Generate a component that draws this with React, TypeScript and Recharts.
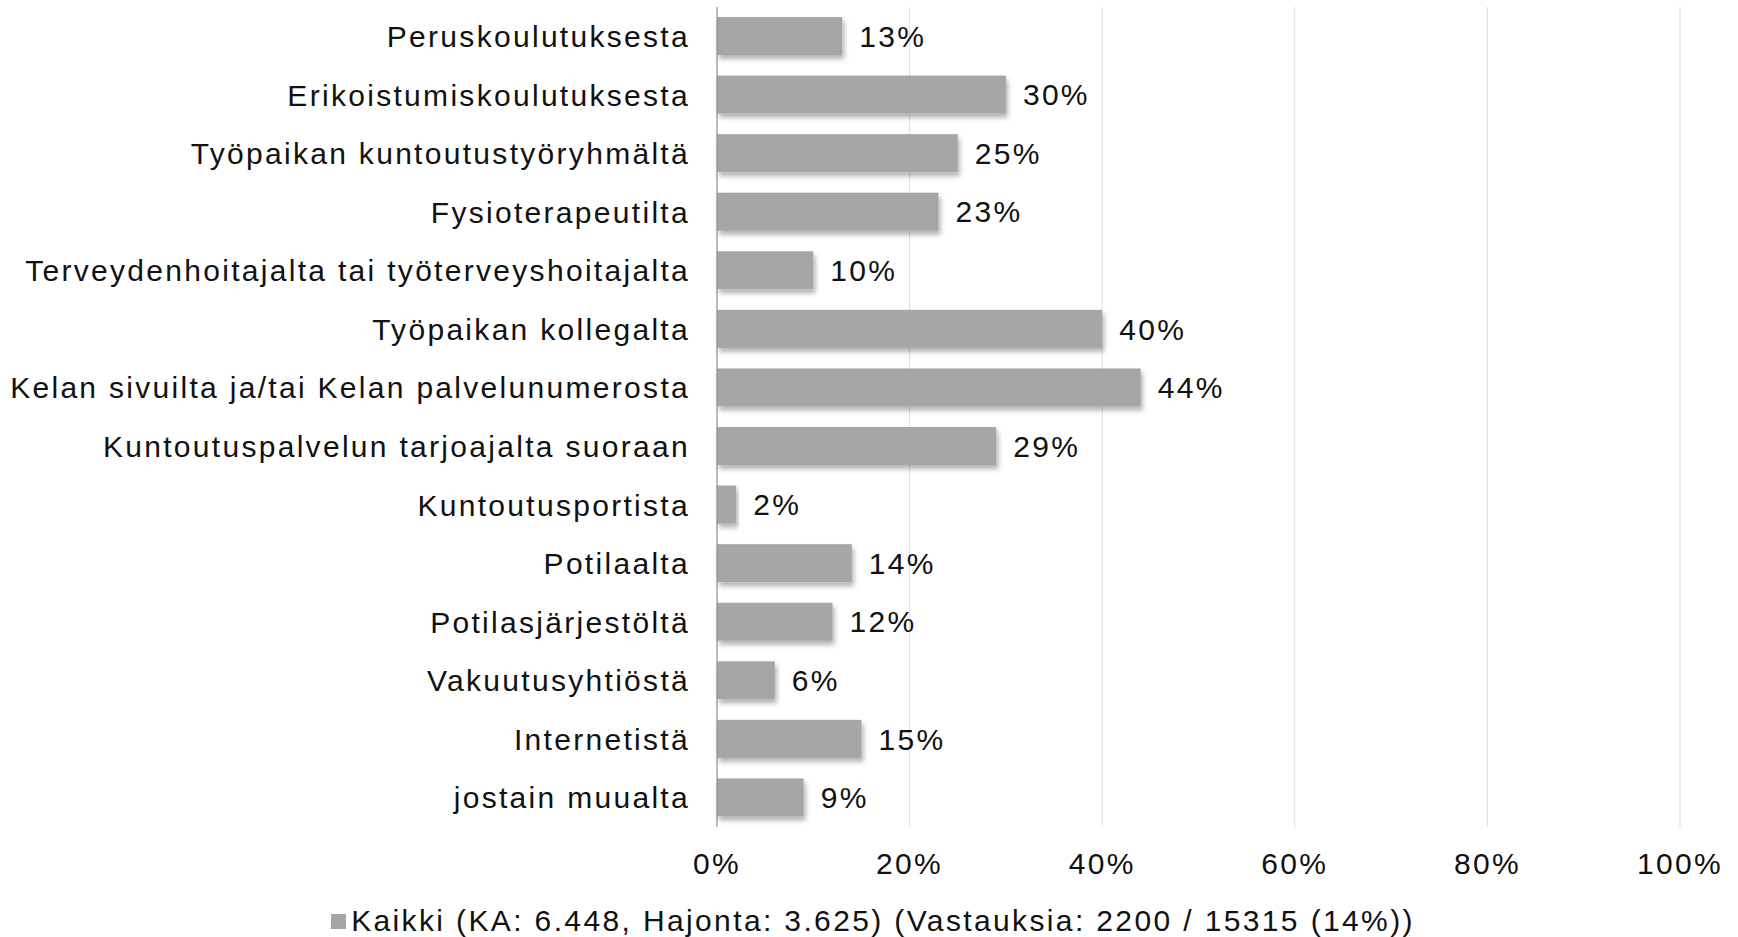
import React from 'react';
import { BarChart, Bar, XAxis, YAxis, CartesianGrid, Legend, LabelList } from 'recharts';

// vastausten lähteet
const categories = [
  'Peruskoulutuksesta',
  'Erikoistumiskoulutuksesta',
  'Työpaikan kuntoutustyöryhmältä',
  'Fysioterapeutilta',
  'Terveydenhoitajalta tai työterveyshoitajalta',
  'Työpaikan kollegalta',
  'Kelan sivuilta ja/tai Kelan palvelunumerosta',
  'Kuntoutuspalvelun tarjoajalta suoraan',
  'Kuntoutusportista',
  'Potilaalta',
  'Potilasjärjestöltä',
  'Vakuutusyhtiöstä',
  'Internetistä',
  'jostain muualta',
];
const values = [13, 30, 25, 23, 10, 40, 44, 29, 2, 14, 12, 6, 15, 9];
const xTicks = [0, 20, 40, 60, 80, 100];
const seriesName = 'Kaikki (KA: 6.448, Hajonta: 3.625) (Vastauksia: 2200 / 15315 (14%))';

const data = categories.map((name, i) => ({ name, value: values[i] }));

const FONT = '"Liberation Sans", Arial, sans-serif';
const BAR = '#a6a6a6';
const TEXT = '#111';

const ShadowBar = (props: any) => {
  const { x, y, width, height } = props;
  if (!width || width <= 0) return null;
  return <rect x={x} y={y} width={width} height={height} fill={BAR} filter="url(#barShadow)" />;
};

const LegendContent = () => (
  <div
    style={{
      width: 1738,
      boxSizing: 'border-box',
      display: 'flex',
      justifyContent: 'center',
      alignItems: 'center',
      paddingTop: 19,
      paddingLeft: 8,
      fontFamily: FONT,
      fontSize: 30,
      letterSpacing: '2.37px',
      color: TEXT,
      lineHeight: '30px',
    }}
  >
    <span style={{ display: 'inline-block', width: 15, height: 15, background: BAR, marginRight: 5 }} />
    <span>{seriesName}</span>
  </div>
);

export default function App() {
  return (
    <div style={{ width: 1738, height: 937, background: '#fff' }}>
      <style>{'body{margin:0}'}</style>
      <BarChart
        width={1738}
        height={937}
        data={data}
        layout="vertical"
        margin={{ top: 7, right: 58, left: 0, bottom: 0 }}
        barSize={38}
      >
        <defs>
          <filter id="barShadow" x="-5%" y="-20%" width="115%" height="160%">
            <feDropShadow dx="2" dy="4" stdDeviation="2.5" floodColor="#000" floodOpacity="0.3" />
          </filter>
        </defs>
        <CartesianGrid horizontal={false} stroke="#d4dfee" />
        <XAxis
          type="number"
          domain={[0, 100]}
          ticks={xTicks}
          tickFormatter={(v) => `${v}%`}
          axisLine={false}
          tickLine={false}
          tickSize={0}
          tickMargin={26}
          height={60}
          interval={0}
          tick={{ fontSize: 30, fill: TEXT, fontFamily: FONT, letterSpacing: 2.3 }}
        />
        <YAxis
          type="category"
          dataKey="name"
          width={717}
          axisLine={{ stroke: '#888' }}
          tickLine={false}
          tickSize={0}
          tickMargin={27}
          interval={0}
          tick={{ fontSize: 30, fill: TEXT, fontFamily: FONT, letterSpacing: 2.3 }}
        />
        <Legend verticalAlign="bottom" height={50} content={<LegendContent />} />
        <Bar dataKey="value" name={seriesName} fill={BAR} shape={<ShadowBar />} isAnimationActive={false}>
          <LabelList
            dataKey="value"
            position="right"
            offset={17}
            formatter={(v: any) => `${v}%`}
            style={{ fontSize: 30, fill: TEXT, fontFamily: FONT, letterSpacing: 2.3 }}
          />
        </Bar>
      </BarChart>
    </div>
  );
}
